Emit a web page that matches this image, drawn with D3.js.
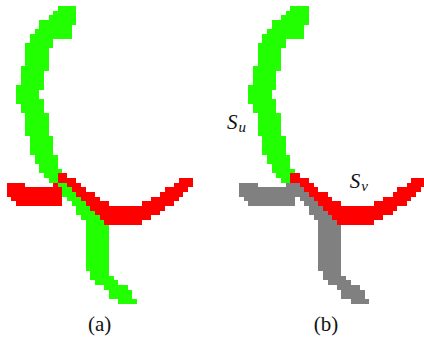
<!DOCTYPE html>
<html>
<head>
<meta charset="utf-8">
<script src="https://cdn.jsdelivr.net/npm/d3@7"></script>
<style>
  html, body { margin: 0; padding: 0; background: #fff; }
  svg { display: block; }
</style>
</head>
<body>
<svg id="fig" width="424" height="340"></svg>
<script>
// Pixel-grid segmentation of two crossing strokes, shown twice:
// (a) the raw strokes, (b) the two selected sub-strokes S_u and S_v.

// Panel captions
const panels = ["(a)", "(b)"];

// Green stroke, upper arc: [row, firstCol, lastCol]
const greenArc = [
  [0,12,15],[1,11,15],[2,10,15],[3,8,15],[4,8,14],[5,7,14],[6,6,14],
  [7,6,10],[8,5,10],[9,5,9],[10,5,9],[11,5,9],[12,5,9],[13,4,9],
  [14,4,8],[15,4,8],[16,4,8],[17,3,8],[18,3,7],[19,3,7],[20,3,8],
  [21,4,8],[22,4,8],[23,5,9],[24,5,9],[25,5,9],[26,5,9],[27,5,9],
  [28,6,10],[29,6,10],[30,6,10],[31,6,10],[32,7,11],[33,7,11],
  [34,8,11],[35,8,12],[36,9,12],[37,10,13]
];

// Green stroke, tail below the crossing: [row, firstCol, lastCol]
const greenTail = [
  [38,12,13],[39,13,14],[40,13,15],[41,14,16],[42,15,17],[43,16,18],
  [44,16,19],[45,17,20],[46,18,21],[47,18,22],[48,18,22],[49,18,22],
  [50,18,22],[51,18,22],[52,18,22],[53,18,22],[54,18,22],[55,18,22],
  [56,18,22],[57,19,22],[58,19,23],[59,20,24],[60,22,26],[61,23,27],
  [62,23,27],[63,25,28]
];

// Red stroke, left arm: [col, firstRow, lastRow]
const redArm = [
  [1,38,40],[2,38,41],[3,38,42],[4,38,42],[5,39,42],[6,39,42],
  [7,39,42],[8,39,42],[9,39,42],[10,39,42],[11,38,42],[12,38,42]
];

// Red stroke, peak and right branch: [col, firstRow, lastRow]
const redRight = [
  [12,36,37],[13,36,37],[14,37,38],[15,37,39],[16,38,40],[17,39,41],
  [18,40,42],[19,40,43],[20,41,44],[21,42,45],[22,42,46],[23,43,46],
  [24,43,46],[25,43,46],[26,43,46],[27,43,46],[28,43,46],[29,43,46],
  [30,42,45],[31,42,45],[32,41,44],[33,41,44],[34,40,43],[35,39,42],
  [36,39,42],[37,38,41],[38,37,40],[39,37,39],[40,37,38]
];

// Sub-stroke names shown in panel (b): [base, subscript]
const strokeNames = [["S", "u"], ["S", "v"]];

// ---- layout ----
const panelShift = [0, 50];          // column shift of each panel on the grid
const captionCol = [21, 69.7];       // caption centres, grid columns
const captionY = 331;
const nameAnchor = [[48.4, 26.5], [74.8, 39.1]]; // [col, row] of each name
const SERIF = "'Liberation Serif', 'Times New Roman', serif";

const GREEN = "#22ff00", RED = "#ff0000", GRAY = "#808080";
const pieceColors = {
  greenArc:  [GREEN, GREEN],
  redArm:    [RED, GRAY],
  redRight:  [RED, RED],
  greenTail: [GREEN, GRAY]
};

const svg = d3.select("#fig");

// One grid unit = one cell
const x = d3.scaleLinear().domain([0, 91]).range([2, 2 + 91 * 4.65]);
const y = d3.scaleLinear().domain([0, 64]).range([6, 6 + 64 * 4.65]);

function drawRows(g, data, off, color) {
  g.selectAll(null).data(data).join("rect")
    .attr("x", d => x(d[1] + off))
    .attr("y", d => y(d[0]))
    .attr("width", d => x(d[2] + 1 + off) - x(d[1] + off))
    .attr("height", d => y(d[0] + 1) - y(d[0]))
    .attr("fill", color);
}
function drawCols(g, data, off, color) {
  g.selectAll(null).data(data).join("rect")
    .attr("x", d => x(d[0] + off))
    .attr("y", d => y(d[1]))
    .attr("width", d => x(d[0] + 1 + off) - x(d[0] + off))
    .attr("height", d => y(d[2] + 1) - y(d[1]))
    .attr("fill", color);
}

panels.forEach((label, i) => {
  const off = panelShift[i];
  const g = svg.append("g").attr("shape-rendering", "crispEdges");
  drawRows(g.append("g"), greenArc, off, pieceColors.greenArc[i]);
  drawCols(g.append("g"), redArm, off, pieceColors.redArm[i]);
  drawCols(g.append("g"), redRight, off, pieceColors.redRight[i]);
  drawRows(g.append("g"), greenTail, off, pieceColors.greenTail[i]);

  svg.append("text")
    .attr("x", x(captionCol[i]))
    .attr("y", captionY)
    .attr("text-anchor", "middle")
    .style("font-family", SERIF)
    .style("font-size", "21px")
    .attr("fill", "#111")
    .text(label);
});

strokeNames.forEach(([base, sub], i) => {
  const [c, r] = nameAnchor[i];
  const t = svg.append("text")
    .attr("x", x(c))
    .attr("y", y(r))
    .style("font-family", SERIF)
    .style("font-style", "italic")
    .style("font-size", "21px")
    .attr("fill", "#111");
  t.append("tspan").text(base);
  t.append("tspan").attr("dx", 1).attr("dy", 3).style("font-size", "15px").text(sub);
});
</script>
</body>
</html>
